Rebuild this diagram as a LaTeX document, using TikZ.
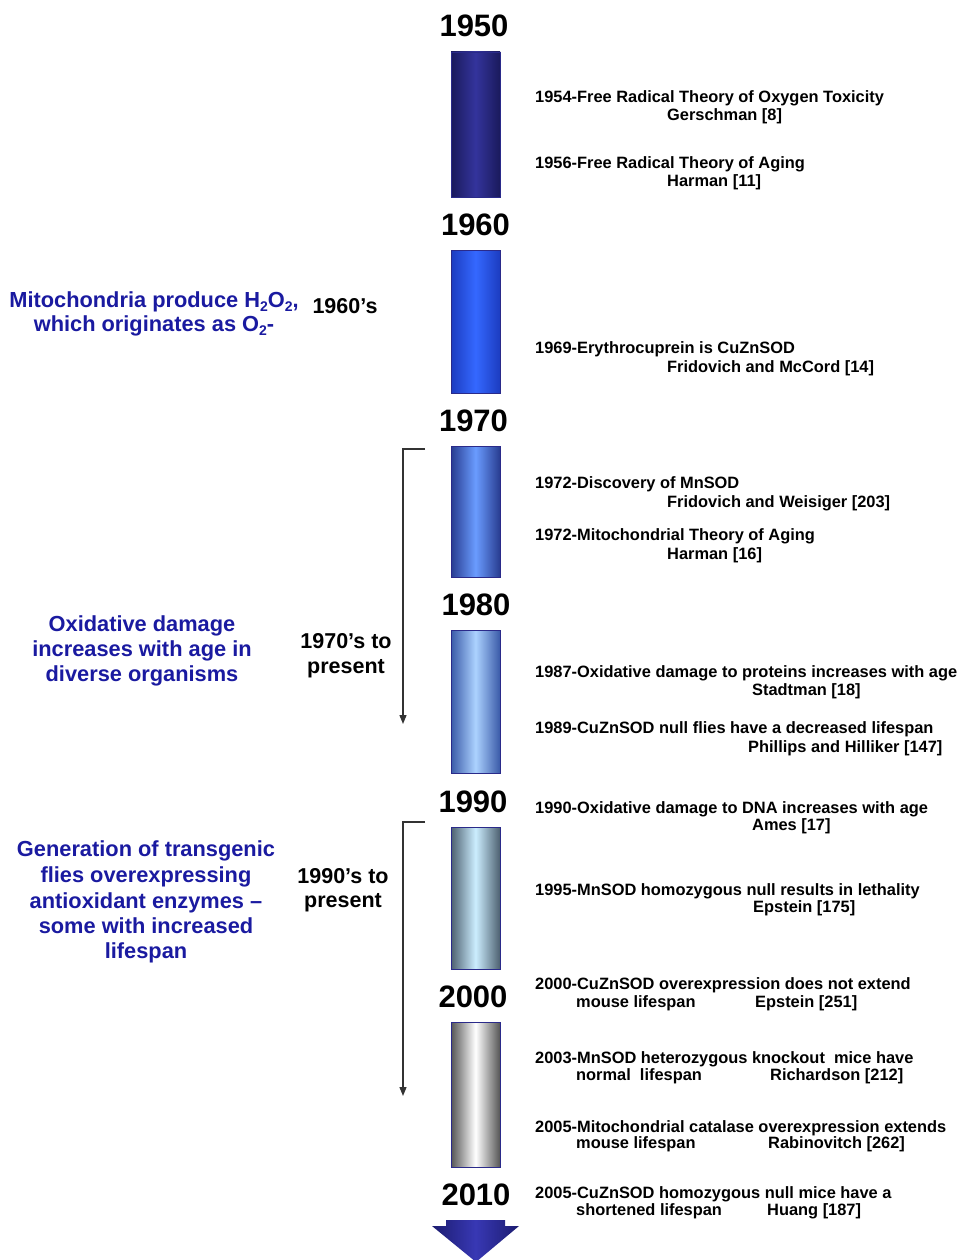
\documentclass[tikz,border=0pt]{standalone}
\usepackage{fontspec}
\setmainfont{Liberation Sans}
\usetikzlibrary{arrows.meta}
\definecolor{navytxt}{HTML}{1A1AA0}
\definecolor{barborder}{HTML}{2A2A8A}
\definecolor{brk}{HTML}{333333}
\definecolor{bAe}{HTML}{1A1A5C}\definecolor{bAm}{HTML}{34349C}
\definecolor{bBe}{HTML}{1C3CC0}\definecolor{bBm}{HTML}{3468FF}
\definecolor{bCe}{HTML}{283C90}\definecolor{bCm}{HTML}{6A9CFF}
\definecolor{bDe}{HTML}{3A5AA8}\definecolor{bDm}{HTML}{ACD2FF}
\definecolor{bEe}{HTML}{4D6070}\definecolor{bEm}{HTML}{CCEEFF}
\definecolor{bFe}{HTML}{555555}\definecolor{bFm}{HTML}{FFFFFF}
\definecolor{arE}{HTML}{1C1C70}\definecolor{arM}{HTML}{3838B4}
\newcommand{\subtxt}[1]{\raisebox{-0.35ex}{\fontsize{14}{14}\selectfont #1}}
\begin{document}
\begin{tikzpicture}[x=1pt,y=-1pt,
  year/.style={font=\fontsize{31}{31}\selectfont\bfseries, anchor=base, inner sep=0pt},
  evt/.style={font=\fontsize{16.4}{16.4}\selectfont\bfseries, anchor=base west, inner sep=0pt},
  lefttxt/.style={font=\fontsize{21.8}{21.8}\selectfont\bfseries, text=navytxt, anchor=base, inner sep=0pt},
  midtxt/.style={font=\fontsize{21.5}{21.5}\selectfont\bfseries, anchor=base, inner sep=0pt},
  bar/.style={draw=barborder, line width=0.8pt},
  bracket/.style={draw=brk, line width=1.3pt, -{Triangle[length=9pt,width=7pt]}}
]
\useasboundingbox (0,0) rectangle (956,1260);

% bars
\path[bar, left color=bAe, right color=bAe, middle color=bAm] (451,52) rectangle (500,197);
\path[bar, left color=bBe, right color=bBe, middle color=bBm] (451,250) rectangle (500,393);
\path[bar, left color=bCe, right color=bCe, middle color=bCm] (451,446) rectangle (500,577);
\path[bar, left color=bDe, right color=bDe, middle color=bDm] (451,630) rectangle (500,773);
\path[bar, left color=bEe, right color=bEe, middle color=bEm] (451,827) rectangle (500,969);
\path[bar, left color=bFe, right color=bFe, middle color=bFm] (451,1022) rectangle (500,1167);

% bottom arrow
\path[left color=arE, right color=arE, middle color=arM]
  (446,1220) -- (505,1220) -- (505,1226) -- (519,1226) -- (476,1262) -- (432,1226) -- (446,1226) -- cycle;

% year labels
\node[year] (y1950) at (474,37) {1950};
\node[year] (y1960) at (475.5,235) {1960};
\node[year] (y1970) at (473.5,431) {1970};
\node[year] (y1980) at (476,615) {1980};
\node[year] (y1990) at (473,812) {1990};
\node[year] (y2000) at (473,1007) {2000};
\node[year] (y2010) at (476,1205) {2010};

% right events
\node[evt] (e1a) at (535,103) {1954-Free Radical Theory of Oxygen Toxicity};
\node[evt] (e1b) at (667,121) {Gerschman [8]};
\node[evt] (e2a) at (535,169) {1956-Free Radical Theory of Aging};
\node[evt] (e2b) at (667,186) {Harman [11]};
\node[evt] (e3a) at (535,353) {1969-Erythrocuprein is CuZnSOD};
\node[evt] (e3b) at (667,372) {Fridovich and McCord [14]};
\node[evt] (e4a) at (535,488) {1972-Discovery of MnSOD};
\node[evt] (e4b) at (667,507) {Fridovich and Weisiger [203]};
\node[evt] (e5a) at (535,540) {1972-Mitochondrial Theory of Aging};
\node[evt] (e5b) at (667,559) {Harman [16]};
\node[evt] (e6a) at (535,677) {1987-Oxidative damage to proteins increases with age};
\node[evt] (e6b) at (752,695) {Stadtman [18]};
\node[evt] (e7a) at (535,733) {1989-CuZnSOD null flies have a decreased lifespan};
\node[evt] (e7b) at (748,752) {Phillips and Hilliker [147]};
\node[evt] (e8a) at (535,813) {1990-Oxidative damage to DNA increases with age};
\node[evt] (e8b) at (752,830) {Ames [17]};
\node[evt] (e9a) at (535,895) {1995-MnSOD homozygous null results in lethality};
\node[evt] (e9b) at (753,912) {Epstein [175]};
\node[evt] (e10a) at (535,989) {2000-CuZnSOD overexpression does not extend};
\node[evt] (e10b) at (576,1007) {mouse lifespan};
\node[evt] (e10c) at (755,1007) {Epstein [251]};
\node[evt] (e11a) at (535,1063) {2003-MnSOD heterozygous knockout\ \ mice have};
\node[evt] (e11b) at (576,1080) {normal\ \ lifespan};
\node[evt] (e11c) at (770,1080) {Richardson [212]};
\node[evt] (e12a) at (535,1132) {2005-Mitochondrial catalase overexpression extends};
\node[evt] (e12b) at (576,1148) {mouse lifespan};
\node[evt] (e12c) at (768,1148) {Rabinovitch [262]};
\node[evt] (e13a) at (535,1198) {2005-CuZnSOD homozygous null mice have a};
\node[evt] (e13b) at (576,1215) {shortened lifespan};
\node[evt] (e13c) at (767,1215) {Huang [187]};

% left texts
\node[lefttxt] (m1) at (154,307) {Mitochondria produce H\subtxt{2}O\subtxt{2},};
\node[lefttxt] (m2) at (154,331) {which originates as O\subtxt{2}-};
\node[midtxt] (p1) at (345,313) {1960’s};

\node[lefttxt] (o1) at (142,631) {Oxidative damage};
\node[lefttxt] (o2) at (142,656) {increases with age in};
\node[lefttxt] (o3) at (142,681) {diverse organisms};
\node[midtxt] (p2a) at (346,648) {1970’s to};
\node[midtxt] (p2b) at (346,673) {present};

\node[lefttxt] (g1) at (146,856) {Generation of transgenic};
\node[lefttxt] (g2) at (146,882) {flies overexpressing};
\node[lefttxt] (g3) at (146,908) {antioxidant enzymes –};
\node[lefttxt] (g4) at (146,933) {some with increased};
\node[lefttxt] (g5) at (146,958) {lifespan};
\node[midtxt] (p3a) at (343,883) {1990’s to};
\node[midtxt] (p3b) at (343,907) {present};

% brackets
\coordinate (b1s) at (425,449);
\coordinate (b1c) at (403,449);
\coordinate (b1e) at (403,724);
\draw[bracket] (b1s) -- (b1c) -- (b1e);
\coordinate (b2s) at (425,822);
\coordinate (b2c) at (403,822);
\coordinate (b2e) at (403,1096);
\draw[bracket] (b2s) -- (b2c) -- (b2e);
\end{tikzpicture}
\end{document}
